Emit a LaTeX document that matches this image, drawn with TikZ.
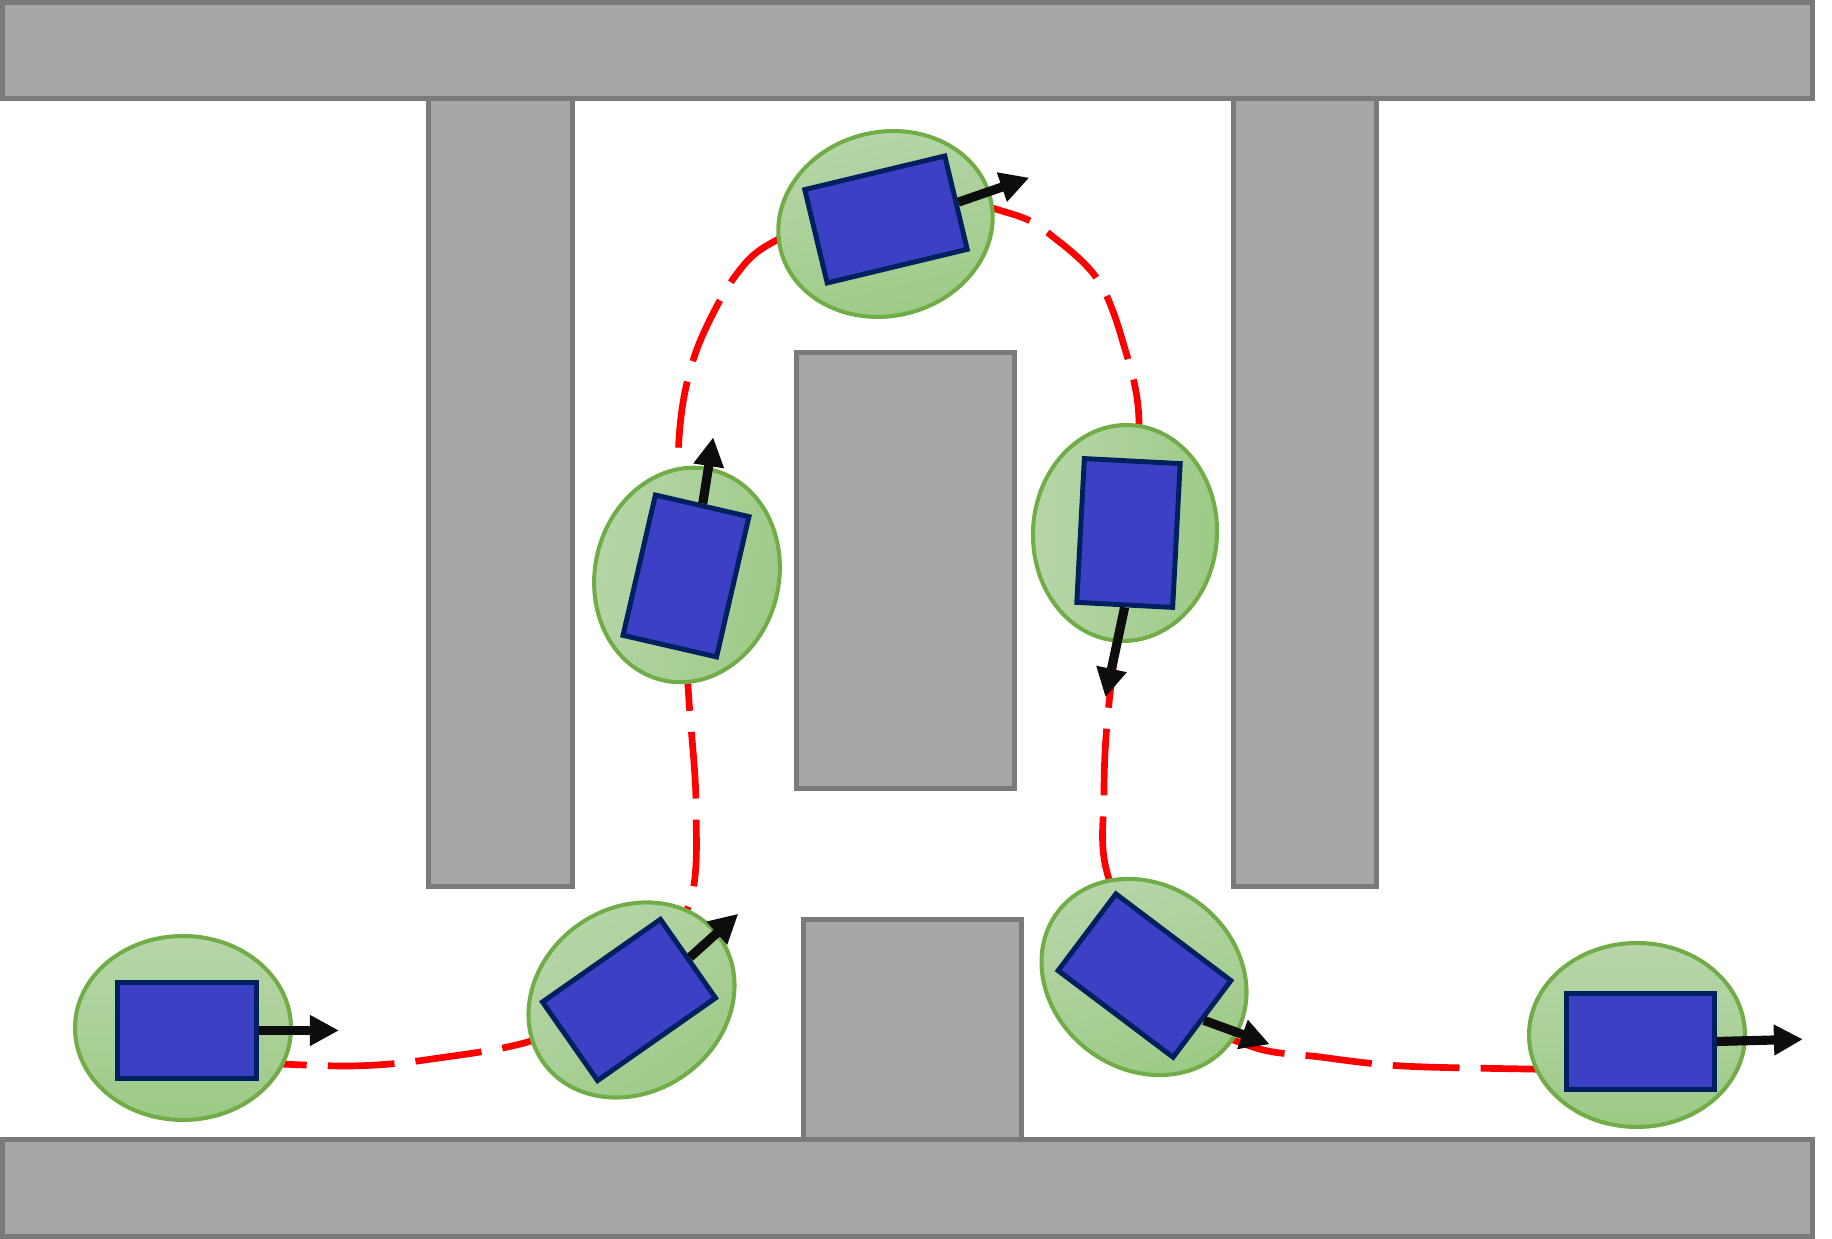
\documentclass[tikz,border=0pt]{standalone}
\usetikzlibrary{arrows.meta,shapes.geometric}
\definecolor{wallF}{RGB}{166,166,166}
\definecolor{wallE}{RGB}{122,122,122}
\definecolor{shellT}{RGB}{183,214,169}
\definecolor{shellB}{RGB}{157,202,134}
\definecolor{shellE}{RGB}{112,173,71}
\definecolor{bodyF}{RGB}{59,64,196}
\definecolor{bodyE}{RGB}{0,32,96}
\definecolor{routeR}{RGB}{255,0,0}

\begin{document}
\begin{tikzpicture}[>={Triangle[length=2.9mm,width=2.9mm]},
  wall/.style={fill=wallF,draw=wallE,line width=1.4pt},
  shell/.style={ellipse,draw=shellE,line width=1.15pt,top color=shellT,bottom color=shellB,minimum width=2.16cm,minimum height=1.84cm,inner sep=0pt},
  chassis/.style={rectangle,draw=bodyE,fill=bodyF,line width=1.4pt,minimum width=1.44cm,minimum height=0.96cm,inner sep=0pt},
  heading/.style={->,line width=2.6pt,black!95},
  route/.style={routeR,line width=1.9pt,dash pattern=on 19pt off 6pt}]
\useasboundingbox (0,0) rectangle (18.32,12.39);
% pillars and blocks, then the two long walls over them
\draw[wall] (4.285,3.525) rectangle (5.725,11.405);
\draw[wall] (12.335,3.525) rectangle (13.765,11.405);
\draw[wall] (7.965,4.505) rectangle (10.145,8.865);
\draw[wall] (8.035,0.995) rectangle (10.215,3.195);
\draw[wall] (0.025,11.405) rectangle (18.125,12.365);
\draw[wall] (0.025,0.025) rectangle (18.125,0.995);
% planned route (partly hidden under the robots)
\draw[route] plot[smooth,tension=0.55] coordinates {(2.40,1.77) (3.50,1.73) (4.32,1.80) (5.40,2.01) (6.30,2.54) (6.89,3.34) (6.96,4.33) (6.89,5.38) (6.81,6.59) (6.78,7.74) (6.84,8.42) (7.01,9.00) (7.36,9.64) (7.77,9.99) (8.95,10.47) (10.12,10.25) (10.57,9.99) (10.98,9.59) (11.22,9.00) (11.39,8.16) (11.25,6.69) (11.08,5.26) (11.04,4.44) (11.08,3.63) (11.65,2.39) (12.50,1.93) (13.20,1.82) (14.02,1.73) (15.25,1.70) (16.00,1.69)};
% robot poses
\node[shell] (s1) at (1.83,2.11) {};
\node[chassis,minimum width=1.39cm] (r1) at (1.87,2.085) {};
\draw[heading] (r1.east) -- ++(0:0.8);
\node[shell,rotate=35,shading angle=35] (s2) at (6.315,2.39) {};
\node[chassis,rotate=35] (r2) at (6.29,2.39) {};
\draw[heading] (r2.east) -- ++(42:0.65);
\node[shell,rotate=77,shading angle=77] (s3) at (6.87,6.64) {};
\node[chassis,rotate=77] (r3) at (6.86,6.63) {};
\draw[heading] (r3.east) -- ++(81:0.67);
\node[shell,rotate=13.5,shading angle=13.5] (s4) at (8.855,10.15) {};
\node[chassis,rotate=13.5] (r4) at (8.86,10.195) {};
\draw[heading] (r4.east) -- ++(19:0.75);
\node[shell,rotate=-93,shading angle=87] (s5) at (11.25,7.06) {};
\node[chassis,rotate=-93] (r5) at (11.285,7.06) {};
\draw[heading] (r5.east) -- ++(-102:0.92);
\node[shell,rotate=-37,shading angle=20] (s6) at (11.44,2.62) {};
\node[chassis,rotate=-37] (r6) at (11.445,2.634) {};
\draw[heading] (r6.east) -- ++(-20:0.7);
\node[shell] (s7) at (16.37,2.04) {};
\node[chassis,minimum width=1.48cm] (r7) at (16.405,1.975) {};
\draw[heading] (r7.east) -- ++(1.5:0.86);
\end{tikzpicture}
\end{document}
